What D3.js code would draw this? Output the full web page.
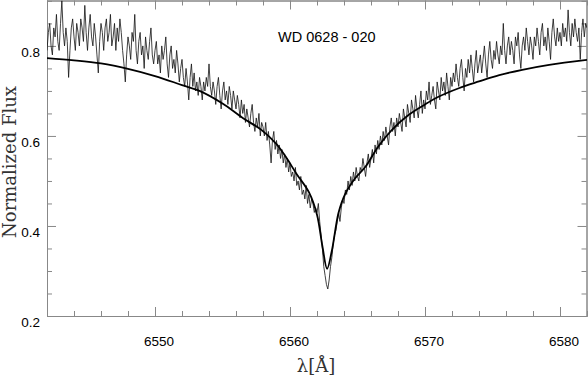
<!DOCTYPE html>
<html>
<head>
<meta charset="utf-8">
<script src="https://cdn.jsdelivr.net/npm/d3@7"></script>
<style>
  html, body { margin: 0; padding: 0; background: #fff; }
  svg { display: block; }
</style>
</head>
<body>
<div id="chart"></div>
<script>
// spectrum sampling (start wavelength, step in Angstrom), one row = 2 A
const obsStart = 6542.0;
const obsStep = 0.1;
const obsFlux = [
  0.79, 0.83, 0.85, 0.80, 0.78, 0.84, 0.82, 0.87, 0.81, 0.79, 0.85, 0.90, 0.83, 0.80, 0.84, 0.81, 0.73, 0.79, 0.84, 0.86,
  0.82, 0.79, 0.85, 0.83, 0.80, 0.86, 0.84, 0.81, 0.89, 0.83, 0.79, 0.84, 0.87, 0.82, 0.80, 0.85, 0.82, 0.78, 0.74, 0.81,
  0.85, 0.83, 0.79, 0.84, 0.86, 0.81, 0.83, 0.87, 0.80, 0.82, 0.85, 0.79, 0.84, 0.81, 0.86, 0.83, 0.79, 0.76, 0.72, 0.78,
  0.82, 0.80, 0.77, 0.83, 0.81, 0.87, 0.79, 0.76, 0.81, 0.83, 0.78, 0.80, 0.75, 0.82, 0.79, 0.77, 0.81, 0.84, 0.78, 0.76,
  0.79, 0.81, 0.76, 0.78, 0.74, 0.80, 0.77, 0.79, 0.82, 0.76, 0.73, 0.78, 0.80, 0.75, 0.77, 0.74, 0.79, 0.76, 0.72, 0.75,
  0.77, 0.73, 0.71, 0.75, 0.72, 0.68, 0.73, 0.76, 0.71, 0.74, 0.70, 0.72, 0.69, 0.73, 0.71, 0.68, 0.72, 0.70, 0.73, 0.71,
  0.76, 0.71, 0.69, 0.72, 0.70, 0.67, 0.71, 0.73, 0.69, 0.66, 0.70, 0.72, 0.68, 0.70, 0.67, 0.71, 0.69, 0.66, 0.70, 0.68,
  0.66, 0.69, 0.67, 0.64, 0.68, 0.65, 0.67, 0.63, 0.66, 0.64, 0.62, 0.65, 0.67, 0.63, 0.61, 0.64, 0.62, 0.65, 0.60, 0.63,
  0.62, 0.60, 0.63, 0.59, 0.61, 0.58, 0.54, 0.59, 0.61, 0.57, 0.59, 0.56, 0.58, 0.55, 0.57, 0.54, 0.56, 0.53, 0.55, 0.52,
  0.54, 0.51, 0.52, 0.50, 0.53, 0.49, 0.50, 0.48, 0.51, 0.47, 0.48, 0.46, 0.49, 0.45, 0.47, 0.44, 0.46, 0.45, 0.43, 0.44,
  0.43, 0.45, 0.41, 0.38, 0.35, 0.31, 0.29, 0.27, 0.26, 0.28, 0.31, 0.33, 0.36, 0.38, 0.39, 0.41, 0.43, 0.41, 0.44, 0.46,
  0.45, 0.48, 0.47, 0.50, 0.48, 0.51, 0.49, 0.52, 0.50, 0.53, 0.51, 0.50, 0.53, 0.52, 0.55, 0.53, 0.51, 0.54, 0.56, 0.53,
  0.55, 0.57, 0.54, 0.58, 0.56, 0.59, 0.57, 0.60, 0.58, 0.61, 0.59, 0.62, 0.60, 0.58, 0.62, 0.64, 0.61, 0.63, 0.60, 0.64,
  0.62, 0.65, 0.63, 0.61, 0.66, 0.64, 0.62, 0.67, 0.65, 0.63, 0.68, 0.66, 0.64, 0.69, 0.66, 0.64, 0.67, 0.70, 0.65, 0.68,
  0.66, 0.70, 0.68, 0.72, 0.67, 0.69, 0.71, 0.68, 0.66, 0.72, 0.70, 0.68, 0.73, 0.70, 0.72, 0.69, 0.74, 0.71, 0.68, 0.73,
  0.71, 0.74, 0.72, 0.76, 0.73, 0.71, 0.75, 0.77, 0.73, 0.70, 0.75, 0.73, 0.77, 0.74, 0.78, 0.75, 0.72, 0.76, 0.79, 0.74,
  0.76, 0.78, 0.74, 0.77, 0.80, 0.76, 0.73, 0.78, 0.81, 0.77, 0.75, 0.79, 0.77, 0.81, 0.78, 0.76, 0.80, 0.78, 0.85, 0.79,
  0.76, 0.80, 0.82, 0.78, 0.81, 0.79, 0.76, 0.82, 0.80, 0.83, 0.78, 0.75, 0.80, 0.82, 0.79, 0.84, 0.81, 0.78, 0.82, 0.80,
  0.77, 0.82, 0.80, 0.84, 0.81, 0.78, 0.83, 0.85, 0.80, 0.82, 0.79, 0.84, 0.81, 0.77, 0.83, 0.86, 0.82, 0.80, 0.84, 0.81,
  0.83, 0.80, 0.85, 0.82, 0.84, 0.81, 0.88, 0.83, 0.80, 0.85, 0.82, 0.86, 0.83, 0.81, 0.84, 0.77, 0.83, 0.86, 0.82, 0.85,
  0.84
];

// model profile
const modelWave = [6542.0, 6544.0, 6546.0, 6548.0, 6550.0, 6552.0, 6553.3, 6555.0, 6556.5, 6557.9,
  6559.0, 6559.7, 6560.5, 6561.4, 6562.0, 6562.4, 6562.75, 6563.1, 6563.6, 6564.1,
  6564.8, 6565.6, 6566.5, 6567.5, 6568.8, 6570.0, 6571.0, 6572.5, 6574.0, 6575.5,
  6577.2, 6579.2, 6582.0];
const modelFlux = [0.773, 0.768, 0.761, 0.749, 0.733, 0.713, 0.700, 0.672, 0.640, 0.613,
  0.582, 0.553, 0.515, 0.475, 0.425, 0.355, 0.305, 0.345, 0.430, 0.472,
  0.505, 0.532, 0.575, 0.612, 0.647, 0.670, 0.687, 0.706, 0.721, 0.735,
  0.747, 0.758, 0.769];

const xMajor = [6550, 6560, 6570, 6580];
const xMinor = [6542, 6544, 6546, 6548, 6552, 6554, 6556, 6558, 6562, 6564, 6566, 6568,
  6572, 6574, 6576, 6578, 6582];
const yMajor = [0.2, 0.4, 0.6, 0.8];
const yMinor = [0.25, 0.3, 0.35, 0.45, 0.5, 0.55, 0.65, 0.7, 0.75, 0.85, 0.9];

const title = 'WD 0628 - 020';
const xTitle = 'λ[Å]';
const yTitle = 'Normalized Flux';

const width = 588, height = 378;
const margin = { top: 0, right: 1, bottom: 62, left: 47 };
const innerW = width - margin.left - margin.right;
const innerH = height - margin.top - margin.bottom;

const svg = d3.select('#chart').append('svg').attr('width', width).attr('height', height);
const g = svg.append('g').attr('transform', `translate(${margin.left},${margin.top})`);

const x = d3.scaleLinear([6542, 6582], [0, innerW]);
const y = d3.scaleLinear([0.2, 0.902], [innerH, 0]);

const axisColor = '#888';
const fmtY = d3.format('.1f');

function styleAxis(sel) {
  sel.select('.domain').attr('stroke', axisColor);
  sel.selectAll('.tick line').attr('stroke', axisColor);
  sel.selectAll('text').attr('font-family', '"Liberation Sans", Arial, sans-serif').attr('font-size', 13.5).attr('fill', '#000');
}

// bottom
g.append('g').attr('transform', `translate(0,${innerH})`)
  .call(d3.axisBottom(x).tickValues(xMinor).tickSize(-5).tickSizeOuter(0).tickFormat(''))
  .call(styleAxis);
const bx = g.append('g').attr('transform', `translate(0,${innerH})`)
  .call(d3.axisBottom(x).tickValues(xMajor).tickSize(-9).tickSizeOuter(0).tickPadding(20).tickFormat(d3.format('d')))
  .call(styleAxis);
bx.selectAll('text').attr('dx', 3.5);

// top
g.append('g').attr('transform', 'translate(0,0.5)')
  .call(d3.axisTop(x).tickValues(xMinor).tickSize(-5).tickSizeOuter(0).tickFormat(''))
  .call(styleAxis);
g.append('g').attr('transform', 'translate(0,0.5)')
  .call(d3.axisTop(x).tickValues(xMajor).tickSize(-9).tickSizeOuter(0).tickFormat(''))
  .call(styleAxis);

// left
g.append('g')
  .call(d3.axisLeft(y).tickValues(yMinor).tickSize(-5).tickSizeOuter(0).tickFormat(''))
  .call(styleAxis);
const ly = g.append('g')
  .call(d3.axisLeft(y).tickValues(yMajor).tickSize(-9).tickSizeOuter(0).tickPadding(7).tickFormat(fmtY))
  .call(styleAxis);
ly.selectAll('text').attr('transform', 'translate(0,6)');

// right
g.append('g').attr('transform', `translate(${innerW - 0.5},0)`)
  .call(d3.axisRight(y).tickValues(yMinor).tickSize(-5).tickSizeOuter(0).tickFormat(''))
  .call(styleAxis);
g.append('g').attr('transform', `translate(${innerW - 0.5},0)`)
  .call(d3.axisRight(y).tickValues(yMajor).tickSize(-9).tickSizeOuter(0).tickFormat(''))
  .call(styleAxis);

svg.append('clipPath').attr('id', 'plotclip').append('rect')
  .attr('width', innerW).attr('height', innerH);

const obs = obsFlux.map((f, i) => ({ w: obsStart + i * obsStep, f }));
const model = modelWave.map((w, i) => ({ w, f: modelFlux[i] }));

const plot = g.append('g').attr('clip-path', 'url(#plotclip)');
plot.append('path').datum(obs)
  .attr('fill', 'none').attr('stroke', '#111').attr('stroke-width', 0.8)
  .attr('d', d3.line().x((d) => x(d.w)).y((d) => y(d.f)));
plot.append('path').datum(model)
  .attr('fill', 'none').attr('stroke', '#000').attr('stroke-width', 1.8)
  .attr('d', d3.line().curve(d3.curveCatmullRom.alpha(0.5)).x((d) => x(d.w)).y((d) => y(d.f)));

svg.append('text').attr('x', 278).attr('y', 42.3)
  .attr('font-family', '"Liberation Sans", Arial, sans-serif').attr('font-size', 14.5)
  .text(title);

svg.append('text').attr('x', margin.left + innerW / 2 - 1).attr('y', 372)
  .attr('text-anchor', 'middle')
  .attr('font-family', '"DejaVu Serif", serif').attr('font-size', 18).attr('fill', '#333')
  .text(xTitle);

svg.append('text').attr('transform', 'translate(15.5,162) rotate(-90)')
  .attr('text-anchor', 'middle')
  .attr('font-family', '"DejaVu Serif", serif').attr('font-size', 18).attr('fill', '#333')
  .text(yTitle);
</script>
</body>
</html>
